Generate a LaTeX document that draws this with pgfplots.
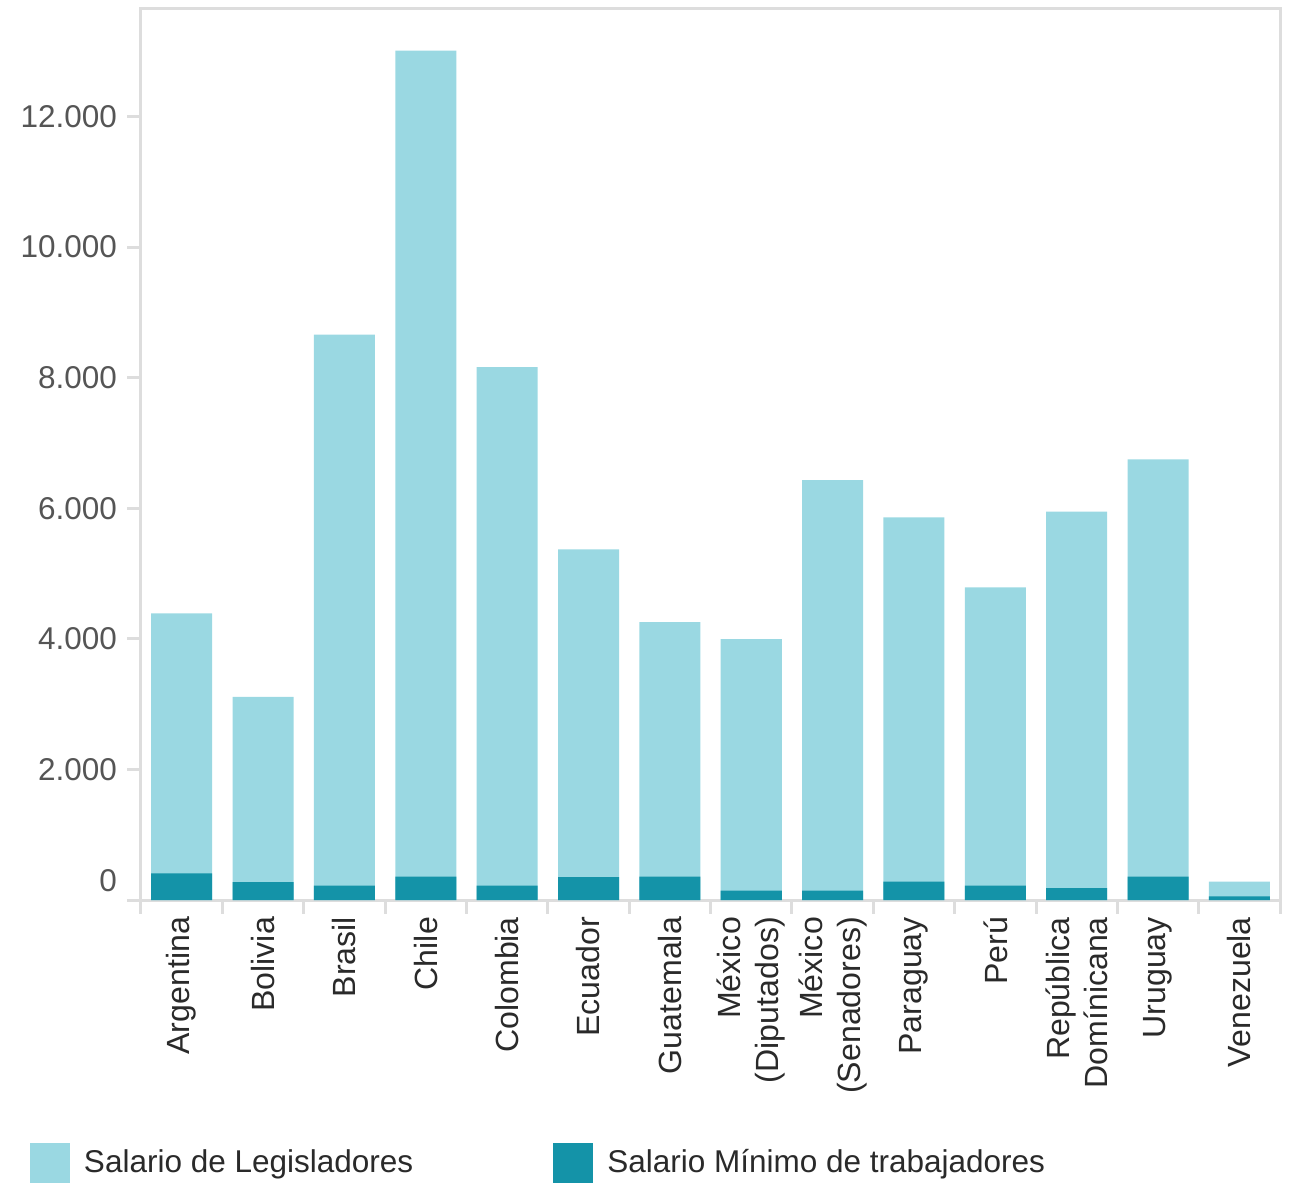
\documentclass[border=0pt]{standalone}
\usepackage{pgfplots}
\pgfplotsset{compat=1.18}
\usepackage{fontspec}
\setmainfont{Liberation Sans}
\definecolor{legis}{HTML}{9AD8E2}
\definecolor{minimo}{HTML}{1493A8}
\definecolor{framegray}{HTML}{DDDDDD}
\definecolor{ylab}{HTML}{555555}
\definecolor{xlab}{HTML}{2A2A2A}

% salario mensual (USD)
\pgfplotstableread{
x leg min
0  4390 410
1  3110 273
2  8660 222
3  13010 360
4  8160 222
5  5370 349
6  4255 360
7  3995 145
8  6430 145
9  5860 283
10 4790 222
11 5950 181
12 6750 360
13 280 55
}\datos

\begin{document}
\begin{tikzpicture}
\useasboundingbox (-47pt,-94.3pt) rectangle (383pt,300pt);
\begin{axis}[
  scale only axis, width=379.7pt, height=297.3pt,
  xmin=-0.5, xmax=13.5, ymin=0, ymax=13660,
  axis line style={draw=framegray, line width=1pt},
  tick align=outside, major tick length=4.5pt,
  tick style={draw=framegray, line width=1pt},
  xtick pos=bottom, ytick pos=left,
  xtick={0,...,13},
  xticklabels={Argentina,Bolivia,Brasil,Chile,Colombia,Ecuador,Guatemala,M\'exico\\(Diputados),M\'exico\\(Senadores),Paraguay,Per\'u,Rep\'ublica\\Dom\'inicana,Uruguay,Venezuela},
  xtick style={draw=none},
  extra x ticks={-0.5,0.5,...,13.5},
  extra x tick labels={},
  extra x tick style={xtick style={draw=framegray, line width=1pt}, xticklabel style={opacity=0}},
  xticklabel style={rotate=90, anchor=east, align=right, inner xsep=1pt,
    font=\fontsize{10.7}{12.6}\selectfont, text=xlab},
  ytick={2000,4000,...,12000},
  extra y ticks={0},
  extra y tick style={yticklabel style={yshift=6.5pt}},
  yticklabel style={font=\fontsize{10.5}{12.6}\selectfont, text=ylab},
  scaled y ticks=false,
  /pgf/number format/.cd, 1000 sep={.}, assume math mode=true, /pgfplots/.cd,
  ybar, bar width=0.75, bar shift=0pt,
  legend columns=2,
  legend style={at={(axis description cs:0,0)}, anchor=north west,
    xshift=-37pt, yshift=-81pt, draw=none, inner sep=0pt, outer sep=0pt,
    font=\fontsize{10.5}{12.6}\selectfont, text=xlab,
    /tikz/every even column/.append style={column sep=44.7pt}},
]
\addplot[fill=legis, draw=none,
  legend image code/.code={\fill[legis] (0pt,-6.65pt) rectangle (13.3pt,6.65pt); \path (16pt,0pt);}]
  table[x=x, y=leg] {\datos};
\addlegendentry{Salario de Legisladores}
\addplot[fill=minimo, draw=none,
  legend image code/.code={\fill[minimo] (0pt,-6.65pt) rectangle (13.3pt,6.65pt); \path (16pt,0pt);}]
  table[x=x, y=min] {\datos};
\addlegendentry{Salario M\'inimo de trabajadores}
\end{axis}
\end{tikzpicture}
\end{document}
